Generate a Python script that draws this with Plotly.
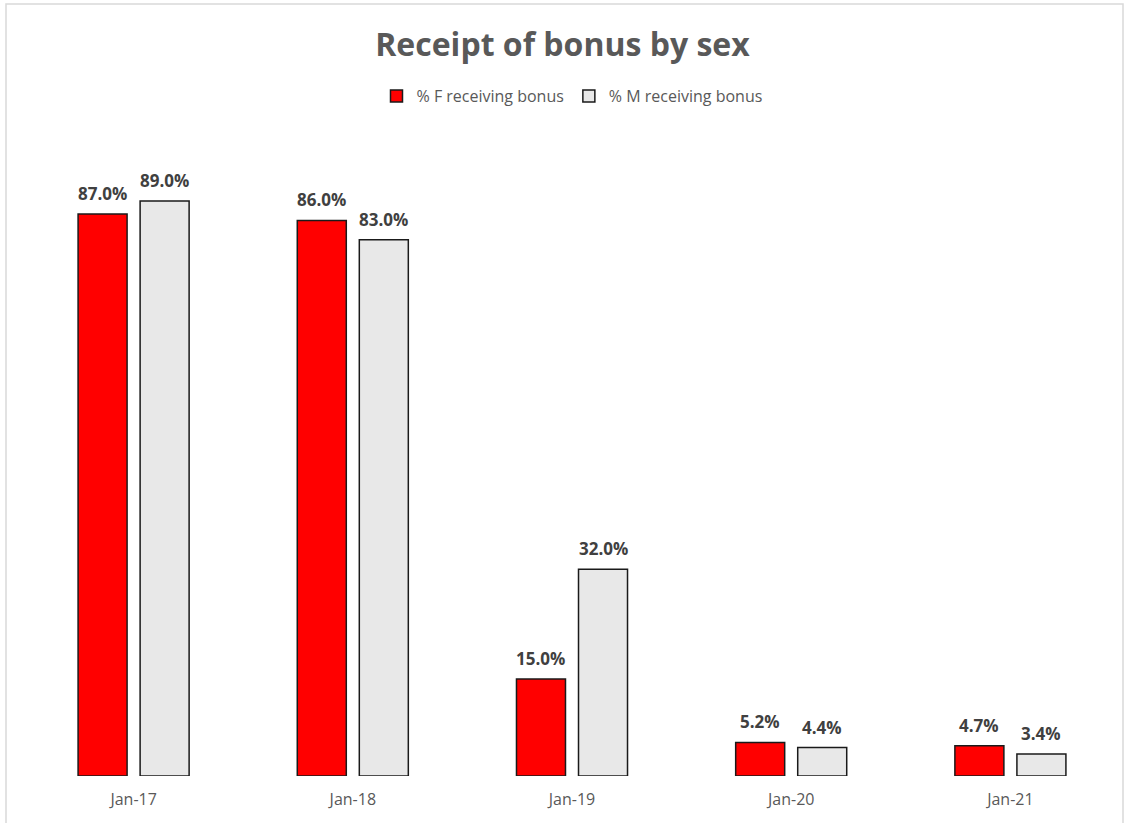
import plotly.graph_objects as go

categories = ["Jan-17", "Jan-18", "Jan-19", "Jan-20", "Jan-21"]
female = [0.870, 0.860, 0.150, 0.052, 0.047]
male = [0.890, 0.830, 0.320, 0.044, 0.034]
series_names = ["% F receiving bonus", "% M receiving bonus"]

W, H = 1125, 823
ml, mr, mt, mb = 24, 5, 130, 47
pw, ph = W - ml - mr, H - mt - mb
bargap = 0.434
bargroupgap = 0.21

font_family = "Open Sans, sans-serif"

fig = go.Figure()
fig.add_trace(go.Bar(
    x=categories, y=female, name=series_names[0],
    marker=dict(color="#FF0000", line=dict(color="#1a1a1a", width=1.5)),
))
fig.add_trace(go.Bar(
    x=categories, y=male, name=series_names[1],
    marker=dict(color="#E8E8E8", line=dict(color="#1a1a1a", width=1.5)),
))

# data labels placed above each bar (offset within the group)
slot = pw / len(categories) * (1 - bargap) / 2
annotations = []
for vals, sign in ((female, -1), (male, 1)):
    for c, v in zip(categories, vals):
        annotations.append(dict(
            x=c, y=v, xref="x", yref="y", text=f"<b>{v*100:.1f}%</b>",
            showarrow=False, xshift=sign * slot / 2, yshift=7,
            yanchor="bottom", xanchor="center",
            font=dict(family=font_family, size=17, color="#404040"),
        ))

fig.update_layout(
    width=W, height=H,
    margin=dict(l=ml, r=mr, t=mt, b=mb),
    paper_bgcolor="white", plot_bgcolor="white",
    barmode="group", bargap=bargap, bargroupgap=bargroupgap,
    title=dict(text="<b>Receipt of bonus by sex</b>", x=0.5, xanchor="center",
               y=1 - 45 / H, yanchor="middle",
               font=dict(family=font_family, size=32, color="#595959")),
    legend=dict(orientation="h", x=0.5, xanchor="center",
                y=1 + (mt - 96) / ph, yanchor="middle",
                font=dict(family=font_family, size=16, color="#595959"),
                traceorder="normal"),
    showlegend=True,
    xaxis=dict(showline=False, showgrid=False, ticks="", ticklabelstandoff=12,
               tickfont=dict(family=font_family, size=16, color="#595959")),
    yaxis=dict(range=[0, 1.0], visible=False, showgrid=False),
    annotations=annotations,
    shapes=[dict(type="rect", xref="paper", yref="paper",
                 x0=(6 - ml) / pw, x1=(1123 - ml) / pw,
                 y0=-(mb + 5) / ph, y1=1 + (mt - 4) / ph,
                 line=dict(color="#d9d9d9", width=1.5), fillcolor="rgba(0,0,0,0)",
                 layer="below")],
)

fig.write_html("out.html")
